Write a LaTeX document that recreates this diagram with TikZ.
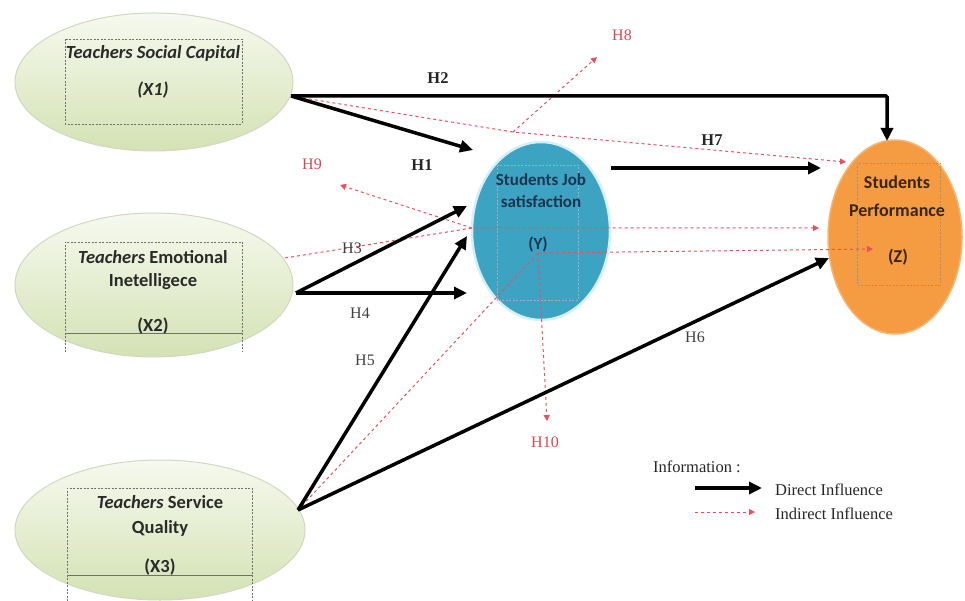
\documentclass[tikz,border=0pt]{standalone}
\usepackage{fontspec}
\setmainfont{Liberation Serif}
\newfontfamily\calfont{Carlito}
\usetikzlibrary{shapes.geometric,arrows.meta}
\definecolor{gtop}{HTML}{F6F9EE}
\definecolor{gbot}{HTML}{D4E2B4}
\definecolor{gedge}{HTML}{D0D8C0}
\definecolor{yblue}{HTML}{3DA3C3}
\definecolor{yedge}{HTML}{D6EEF6}
\definecolor{zorange}{HTML}{F59B42}
\definecolor{zedge}{HTML}{F7B574}
\definecolor{rline}{HTML}{E8505E}
\definecolor{rtext}{HTML}{E04452}
\definecolor{xtext}{HTML}{2A2A2A}
\definecolor{ytext}{HTML}{1B3550}
\definecolor{ztext}{HTML}{3A2610}
\definecolor{rectc}{HTML}{707070}
\tikzset{
  gell/.style={ellipse, inner sep=0pt, top color=gtop, bottom color=gbot, draw=gedge, line width=1pt},
  yell/.style={ellipse, inner sep=0pt, fill=yblue, draw=yedge, line width=2.5pt},
  zell/.style={ellipse, inner sep=0pt, fill=zorange, draw=zedge, line width=1.5pt},
  inrect/.style={draw=rectc, line width=0.6pt, dash pattern=on 2pt off 1.5pt},
  xlab/.style={font=\calfont\bfseries\fontsize{18.5}{20}\selectfont, text=xtext, inner sep=0pt},
  ylab/.style={font=\calfont\bfseries\fontsize{17}{19}\selectfont, text=ytext, inner sep=0pt},
  zlab/.style={font=\calfont\bfseries\fontsize{18}{20}\selectfont, text=ztext, inner sep=0pt},
  hbold/.style={font=\bfseries\fontsize{16.5}{18}\selectfont, text=black!85, inner sep=0pt},
  hreg/.style={font=\fontsize{16}{18}\selectfont, text=black!75, inner sep=0pt},
  hred/.style={font=\fontsize{16}{18}\selectfont, text=rtext, inner sep=0pt},
  leg/.style={font=\fontsize{16.5}{18}\selectfont, text=black!85, inner sep=0pt, anchor=west},
  direct/.style={line width=3.5pt, -{Triangle[length=13pt,width=12pt]}},
  indirect/.style={rline, line width=1pt, dash pattern=on 3pt off 3pt, -{Triangle[length=6pt,width=6pt]}},
}
\begin{document}
\begin{tikzpicture}[x=1pt,y=-1pt]
\useasboundingbox (0,0) rectangle (965,601);
% ellipses
\node[gell, minimum width=278pt, minimum height=138pt] (X1) at (154,82) {};
\node[gell, minimum width=278pt, minimum height=144pt] (X2) at (154,285) {};
\node[gell, minimum width=290pt, minimum height=140pt] (X3) at (160,530) {};
\node[yell, minimum width=138pt, minimum height=178pt] (Y) at (541,231) {};
\node[zell, minimum width=134pt, minimum height=194pt] (Z) at (895,237) {};
% inner rectangles
\draw[inrect] (65,39) rectangle (242,124);
\draw[inrect] (65,352) -- (65,242) -- (242,242) -- (242,352);
\draw[rectc, line width=1pt] (65,333) -- (242,333);
\draw[inrect] (67,601) -- (67,488) -- (252,488) -- (252,601);
\draw[rectc, line width=1pt] (67,575) -- (252,575);
\draw[inrect, draw=ytext!40] (497,165) rectangle (578,300);
\draw[inrect, draw=ztext!50] (857,163) rectangle (940,285);
% texts in ellipses
\node[xlab] (t1a) at (153,53) {\itshape Teachers Social Capital};
\node[xlab] (t1b) at (153,90) {\itshape (X1)};
\node[xlab] (t2a) at (153,257) {\textit{Teachers} Emotional};
\node[xlab] (t2b) at (153,282) {Inetelligece};
\node[xlab] (t2c) at (153,326) {(X2)};
\node[xlab] (t3a) at (160,502) {\textit{Teachers} Service};
\node[xlab] (t3b) at (160,528) {Quality};
\node[xlab] (t3c) at (160,567) {(X3)};
\node[ylab] (tya) at (541,180) {Students Job};
\node[ylab] (tyb) at (541,202) {satisfaction};
\node[ylab] (tyc) at (538,244) {(Y)};
\node[zlab] (tza) at (897,182) {Students};
\node[zlab] (tzb) at (897,210) {Performance};
\node[zlab] (tzc) at (898,257) {(Z)};
% connection points
\coordinate (x1o) at (291,96);
\coordinate (x2o) at (296,293);
\coordinate (x2r) at (285,258);
\coordinate (x3o) at (298,510);
\coordinate (ytop) at (513,132);
\coordinate (yleft) at (472,228);
\coordinate (ymid) at (538,253);
\coordinate (yright) at (611,168);
\coordinate (h1e) at (473,150);
\coordinate (h2c) at (887,96);
\coordinate (h2e) at (887,141);
\coordinate (h3e) at (467,206);
\coordinate (h4e) at (467,293);
\coordinate (h5e) at (467,236);
\coordinate (h6e) at (829,258);
\coordinate (h7e) at (821,168);
\coordinate (r1e) at (846,162);
\coordinate (h8e) at (597,57);
\coordinate (h9e) at (340,185);
\coordinate (r3e) at (819,228);
\coordinate (r4e) at (873,249);
\coordinate (h10e) at (547,421);
% indirect (red dashed)
\draw[indirect] (x1o) -- (ytop) -- (r1e);
\draw[indirect] (ytop) -- (h8e);
\draw[indirect] (yleft) -- (h9e);
\draw[indirect] (x2r) -- (yleft) -- (r3e);
\draw[indirect] (ymid) -- (r4e);
\draw[indirect] (ymid) -- (h10e);
\draw[rline, line width=1pt, dash pattern=on 3pt off 3pt] (x3o) -- (ymid);
% direct (black)
\draw[direct] (x1o) -- (h1e);
\draw[direct, rounded corners=1pt] (x1o) -- (h2c) -- (h2e);
\draw[direct] (x2o) -- (h3e);
\draw[direct] (x2o) -- (h4e);
\draw[direct] (x3o) -- (h5e);
\draw[direct] (x3o) -- (h6e);
\draw[direct] (yright) -- (h7e);
% hypothesis labels
\node[hbold] (H1) at (422,165) {H1};
\node[hbold] (H2) at (438,78) {H2};
\node[hreg] (H3) at (352,248) {H3};
\node[hreg] (H4) at (360,313) {H4};
\node[hreg] (H5) at (365,360) {H5};
\node[hreg] (H6) at (695,337) {H6};
\node[hbold] (H7) at (712,140) {H7};
\node[hred] (H8) at (622,35) {H8};
\node[hred] (H9) at (312,164) {H9};
\node[hred] (H10) at (545,442) {H10};
% legend
\node[leg] (info) at (653,467) {Information :};
\coordinate (la1) at (695,488);
\coordinate (la2) at (762,488);
\coordinate (lb1) at (695,512);
\coordinate (lb2) at (755,512);
\draw[direct] (la1) -- (la2);
\draw[indirect] (lb1) -- (lb2);
\node[leg] (ld) at (775,490) {Direct Influence};
\node[leg] (li) at (775,514) {Indirect Influence};
\end{tikzpicture}
\end{document}
